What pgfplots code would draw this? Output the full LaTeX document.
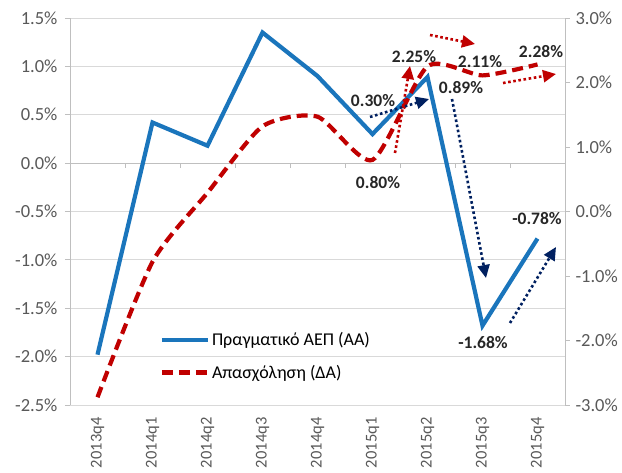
\documentclass[border=0pt]{standalone}
\usepackage{pgfplots}
\pgfplotsset{compat=1.18}
\usepackage{fontspec}
\setmainfont{Carlito}
\usetikzlibrary{arrows.meta}
\definecolor{gdpblue}{HTML}{1A75BC}
\definecolor{empred}{HTML}{C00000}
\definecolor{navy}{HTML}{002060}
\definecolor{gridc}{HTML}{D9D9D9}
\definecolor{axc}{HTML}{BFBFBF}
\definecolor{tickc}{HTML}{595959}
\definecolor{lblc}{HTML}{262626}

\pgfplotsset{
  longlegend/.style={legend image code/.code={\draw[##1] (0pt,0pt) -- (46pt,0pt);}},
}

\pgfplotstableread{
x gdp emp
0 -1.98 -2.88
1 0.42 -0.78
2 0.18 0.29
3 1.35 1.32
4 0.90 1.47
5 0.30 0.80
6 0.89 2.25
7 -1.68 2.11
8 -0.78 2.28
}\datatable

\begin{document}
\begin{tikzpicture}
\pgfplotsset{
  common/.style={
    scale only axis, width=495pt, height=387pt,
    xmin=-0.5, xmax=8.5,
    /pgf/number format/assume math mode=true,
    tick label style={font=\fontsize{18.5}{20}\selectfont, text=tickc},
    tick align=outside, major tick length=5pt,
    every tick/.style={axc, line width=0.8pt},
    clip=false,
  }
}
\begin{axis}[common,
  axis y line*=left,
  axis x line*=bottom,
  axis line style={axc, line width=0.8pt, -},
  x axis line style={draw=none},
  ymin=-2.5, ymax=1.5,
  ytick={-2.5,-2,-1.5,-1,-0.5,0,0.5,1,1.5},
  yticklabel={\pgfmathprintnumber[fixed,fixed zerofill,precision=1]{\tick}\%},
  yticklabel shift=4pt,
  ymajorgrids, grid style={gridc, line width=0.8pt},
  xtick={0,1,2,3,4,5,6,7,8},
  xticklabels={2013q4,2014q1,2014q2,2014q3,2014q4,2015q1,2015q2,2015q3,2015q4},
  xticklabel style={rotate=90, anchor=east, font=\fontsize{16.5}{18}\selectfont},
  xticklabel shift=4pt,
  xtick style={draw=none},
  legend style={draw=none, fill=none, at={(0.175,0.198)}, anchor=north west,
    font=\fontsize{18}{20}\selectfont, text=black, row sep=14pt,
    /tikz/every even column/.append style={column sep=2pt}},
  legend cell align=left,
]
\draw[axc, line width=0.8pt] (axis cs:-0.5,0) -- (axis cs:8.5,0);
\draw[gridc, line width=0.8pt] (axis cs:-0.5,-2.5) -- (axis cs:8.5,-2.5);
\draw[axc, line width=0.8pt] (axis cs:0.5,0) -- ++(0pt,-5pt);
\draw[axc, line width=0.8pt] (axis cs:1.5,0) -- ++(0pt,-5pt);
\draw[axc, line width=0.8pt] (axis cs:2.5,0) -- ++(0pt,-5pt);
\draw[axc, line width=0.8pt] (axis cs:3.5,0) -- ++(0pt,-5pt);
\draw[axc, line width=0.8pt] (axis cs:4.5,0) -- ++(0pt,-5pt);
\draw[axc, line width=0.8pt] (axis cs:5.5,0) -- ++(0pt,-5pt);
\draw[axc, line width=0.8pt] (axis cs:6.5,0) -- ++(0pt,-5pt);
\draw[axc, line width=0.8pt] (axis cs:7.5,0) -- ++(0pt,-5pt);
\addplot[gdpblue, line width=4.2pt, line join=miter, miter limit=3, longlegend]
  table[x=x, y=gdp] {\datatable};
\addlegendentry{Πραγματικό ΑΕΠ (ΑΑ)}
\addlegendimage{empred, line width=4.2pt, dash pattern=on 11pt off 6pt, longlegend}
\addlegendentry{Απασχόληση (ΔΑ)}
\end{axis}
\begin{axis}[common,
  axis y line*=right,
  axis x line=none,
  axis line style={axc, line width=0.8pt, -},
  ymin=-3, ymax=3,
  ytick={-3,-2,-1,0,1,2,3},
  yticklabel={\pgfmathprintnumber[fixed,fixed zerofill,precision=1]{\tick}\%},
  yticklabel shift=2pt,
]
\addplot[empred, line width=4.2pt, dash pattern=on 11pt off 6pt, smooth, tension=0.4]
  table[x=x, y=emp] {\datatable};
\end{axis}
\begin{scope}[x=1pt, y=-1pt, shift={(-70pt,405pt)}]
  \tikzset{lbl/.style={font=\fontsize{17.5}{19}\selectfont\bfseries, text=lblc, inner sep=0pt}}
  \node[lbl] at (373,101) {0.30\%};
  \node[lbl] at (414,57) {2.25\%};
  \node[lbl] at (480,62) {2.11\%};
  \node[lbl] at (541,52) {2.28\%};
  \node[lbl] at (461,88) {0.89\%};
  \node[lbl] at (378,183) {0.80\%};
  \node[lbl] at (537,219) {-0.78\%};
  \node[lbl] at (483,343) {-1.68\%};
  \tikzset{
    narr/.style={navy, line width=2.6pt, dash pattern=on 2.6pt off 2.6pt,
      -{Triangle[length=13pt, width=12pt, fill=navy]}},
    rarr/.style={empred, line width=2.6pt, dash pattern=on 2.6pt off 2.6pt,
      -{Triangle[length=13pt, width=12pt, fill=empred]}},
  }
  \draw[narr] (370,117) -- (429,99);
  \draw[rarr] (395,153) -- (410,66);
  \draw[rarr] (430,35) -- (475,44);
  \draw[rarr] (503,83) -- (556,74);
  \draw[narr] (452,99) -- (486,278);
  \draw[narr] (510,323) -- (556,247);
\end{scope}
\pgfresetboundingbox
\path[use as bounding box] (-70pt,-67pt) rectangle (552pt,405pt);
\end{tikzpicture}
\end{document}
